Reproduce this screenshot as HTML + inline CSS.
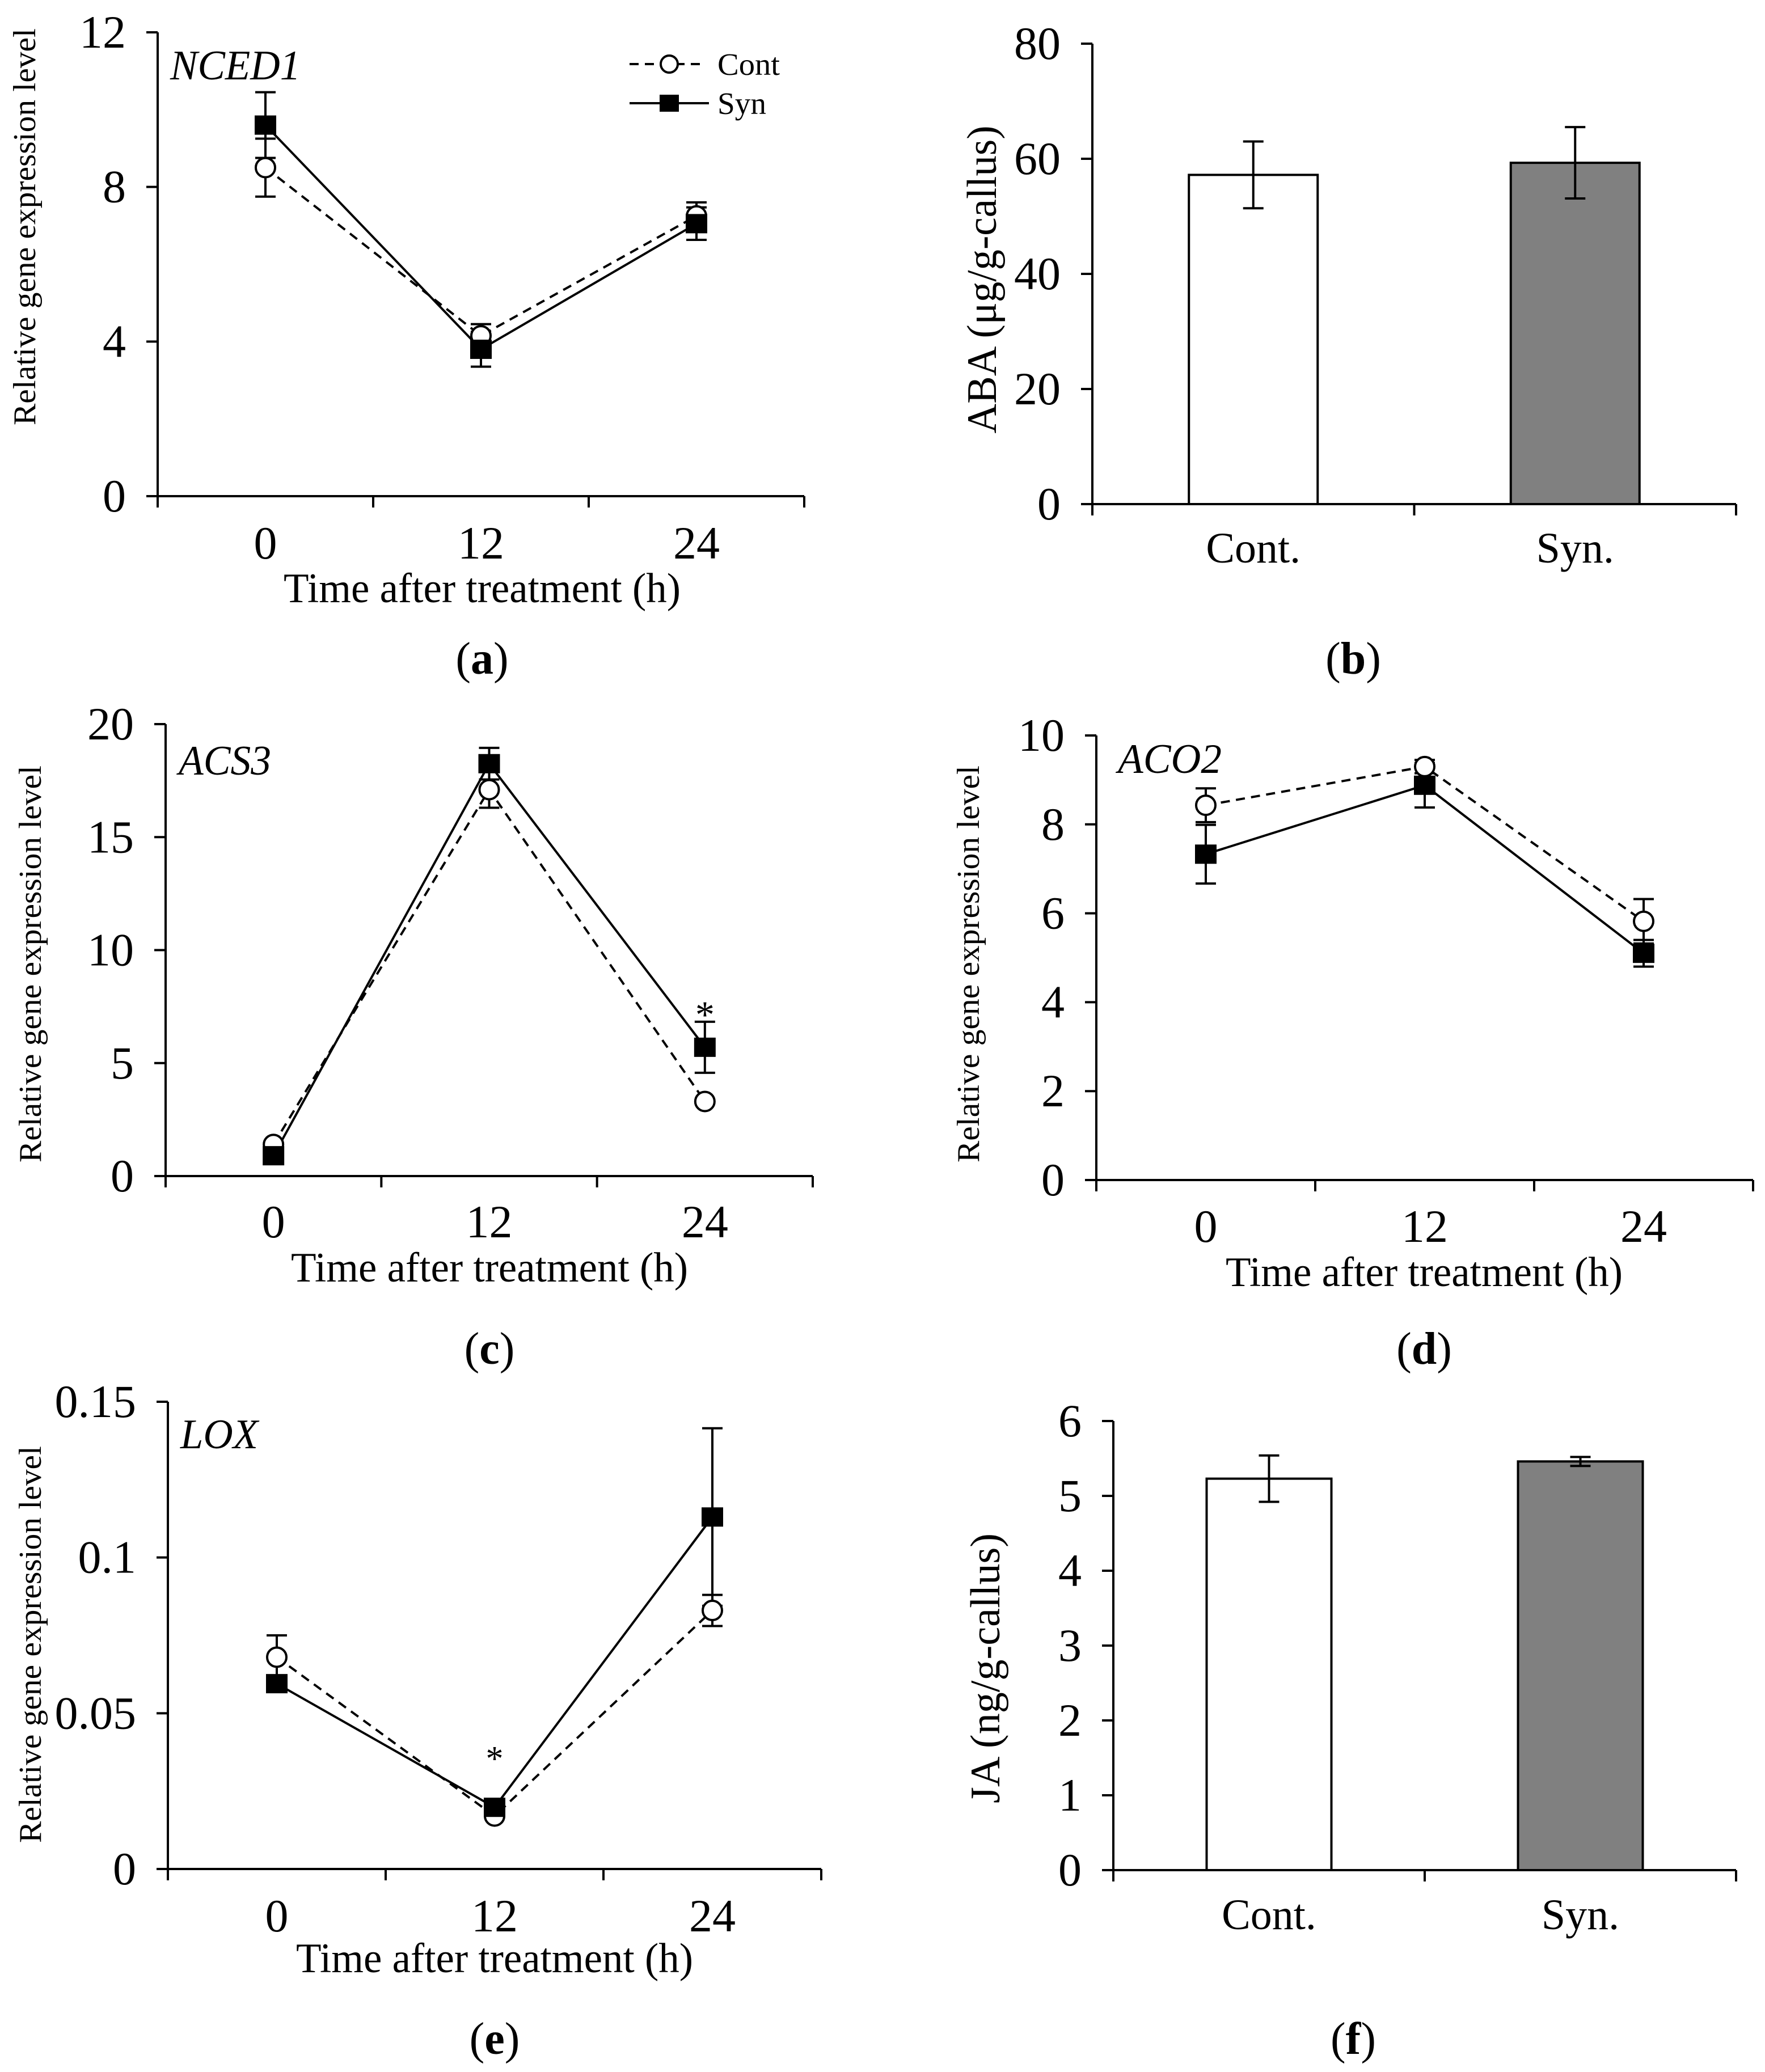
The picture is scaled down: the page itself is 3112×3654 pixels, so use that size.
<!DOCTYPE html>
<html><head><meta charset="utf-8"><style>
html,body{margin:0;padding:0;background:#fff;}
svg{display:block;}
text{font-family:"Liberation Serif",serif;fill:#000;}
</style></head><body>
<svg id="fig" width="3112" height="3654" viewBox="0 0 3112 3654" xmlns="http://www.w3.org/2000/svg"></svg>
<script>
const timeCats=["0","12","24"];
const ncedCont=[8.5,4.15,7.25], ncedContErr=[0.75,0.3,0.35];
const ncedSyn=[9.6,3.8,7.05], ncedSynErr=[0.85,0.45,0.42];
const ncedTicks=[0,4,8,12];
const acsCont=[1.4,17.1,3.3], acsContErr=[0,0.8,0];
const acsSyn=[0.9,18.25,5.7], acsSynErr=[0,0.7,1.13];
const acsTicks=[0,5,10,15,20];
const acoCont=[8.43,9.3,5.82], acoContErr=[0.38,0.15,0.5];
const acoSyn=[7.33,8.88,5.1], acoSynErr=[0.66,0.5,0.3];
const acoTicks=[0,2,4,6,8,10];
const loxCont=[0.068,0.017,0.083], loxContErr=[0.007,0,0.005];
const loxSyn=[0.0595,0.0198,0.113], loxSynErr=[0,0,0.0285];
const loxTicks=[0,0.05,0.1,0.15];
const loxTickLabels=["0","0.05","0.1","0.15"];
const barCats=["Cont.","Syn."];
const abaVals=[57.2,59.3], abaErr=[5.8,6.2];
const abaTicks=[0,20,40,60,80];
const jaVals=[5.23,5.46], jaErr=[0.31,0.06];
const jaTicks=[0,1,2,3,4,5,6];

const NS="http://www.w3.org/2000/svg";
const svg=document.getElementById('fig');
function mk(tag,attrs,parent){const e=document.createElementNS(NS,tag);for(const k in attrs)e.setAttribute(k,attrs[k]);(parent||svg).appendChild(e);return e;}
function txt(s,x,y,size,parent,opts){opts=opts||{};const t=mk('text',{x:x,y:y,'font-size':size,'text-anchor':opts.anchor||'middle'},parent);
 if(opts.len){t.setAttribute('textLength',opts.len);t.setAttribute('lengthAdjust','spacingAndGlyphs');}
 if(opts.italic)t.setAttribute('font-style','italic');if(opts.bold)t.setAttribute('font-weight','bold');
 if(opts.rot)t.setAttribute('transform','rotate(-90 '+x+' '+y+')');if(opts.fill)t.setAttribute('fill',opts.fill);
 t.textContent=s;return t;}

function axes(g,P,ticks,labels,nCats){
 const yS=v=>P.y0-(v-P.vmin)/(P.vmax-P.vmin)*(P.y0-P.yTop);
 let e=mk('line',{x1:P.x0,y1:P.yTop,x2:P.x0,y2:P.y0,stroke:'#000','stroke-width':4},g);
 
 e=mk('line',{x1:P.x0-3,y1:P.y0,x2:P.x1,y2:P.y0,stroke:'#000','stroke-width':4},g);
 
 ticks.forEach((v,i)=>{const y=yS(v);
  e=mk('line',{x1:P.x0-20,y1:y,x2:P.x0,y2:y,stroke:'#000','stroke-width':4},g);
  
  const s=labels?labels[i]:String(v);
  e=txt(s,P.x0-56,y+27,82,g,{anchor:'end'});
  });
 const w=(P.x1-P.x0)/nCats;
 for(let i=0;i<=nCats;i++){e=mk('line',{x1:P.x0+i*w,y1:P.y0,x2:P.x0+i*w,y2:P.y0+20,stroke:'#000','stroke-width':4},g);
  }
 return {yS:yS,xS:i=>P.x0+(i+0.5)*w};
}

function errBar(g,x,y1,y2){if(Math.abs(y2-y1)<1)return;
 let e=mk('line',{x1:x,y1:y1,x2:x,y2:y2,stroke:'#000','stroke-width':4},g);
 
 [y1,y2].forEach(y=>{e=mk('line',{x1:x-18,y1:y,x2:x+18,y2:y,stroke:'#000','stroke-width':4},g);
  });}

function panelLabel(g,letter,x,y){const e=mk('text',{x:x,y:y,'font-size':80,'text-anchor':'middle'},g);
 e.innerHTML='(<tspan font-weight="bold">'+letter+'</tspan>)';
 }

function linePanel(name,P,ticks,tickLabels,cont,contErr,syn,synErr,gene,genePos,label){
 const g=mk('g',{});
 const A=axes(g,P,ticks,tickLabels,3);
 cont.forEach((v,i)=>errBar(g,A.xS(i),A.yS(v+contErr[i]),A.yS(v-contErr[i])));
 syn.forEach((v,i)=>errBar(g,A.xS(i),A.yS(v+synErr[i]),A.yS(v-synErr[i])));
 let e=mk('polyline',{points:cont.map((v,i)=>A.xS(i)+','+A.yS(v)).join(' '),fill:'none',stroke:'#000','stroke-width':4,'stroke-dasharray':'16 11'},g);
 
 e=mk('polyline',{points:syn.map((v,i)=>A.xS(i)+','+A.yS(v)).join(' '),fill:'none',stroke:'#000','stroke-width':4},g);
 
 cont.forEach((v,i)=>{e=mk('circle',{cx:A.xS(i),cy:A.yS(v),r:17,fill:'#fff',stroke:'#000','stroke-width':4},g);
  });
 syn.forEach((v,i)=>{e=mk('rect',{x:A.xS(i)-19,y:A.yS(v)-17,width:38,height:34,fill:'#000'},g);
  });
 timeCats.forEach((c,i)=>{e=txt(c,A.xS(i),P.xtY,82,g,{});
  });
 e=txt('Time after treatment (h)',P.xTitle,P.titleY,74,g,{len:700});
 
 e=txt('Relative gene  expression  level',P.yLabX,P.yLabC,56,g,{rot:1,len:700});
 
 e=txt(gene,genePos[0],genePos[1],74,g,{anchor:'start',italic:1,len:genePos[2]});
 
 panelLabel(g,label,P.xTitle,P.labY);
 return {g:g,A:A};
}

function barPanel(name,P,ticks,vals,errs,ylab,yLen,label,bw){
 const g=mk('g',{});
 const A=axes(g,P,ticks,null,2);
 const fills=['#fff','#808080'];
 vals.forEach((v,i)=>{let e=mk('rect',{x:A.xS(i)-bw/2,y:A.yS(v),width:bw,height:P.y0-A.yS(v),fill:fills[i],stroke:'#000','stroke-width':4},g);
  
  errBar(g,A.xS(i),A.yS(v+errs[i]),A.yS(v-errs[i]));
  e=txt(barCats[i],A.xS(i),P.xtY,76,g,{});
  });
 let e=txt(ylab,P.yLabX,P.yLabC,74,g,{rot:1,len:yLen});
 
 panelLabel(g,label,2386,P.labY);
}

// Panel a
linePanel('nced1',{x0:278,x1:1418,yTop:57,y0:875,vmin:0,vmax:12,yLabX:62,yLabC:400,xTitle:850,xtY:985,titleY:1062,labY:1188},ncedTicks,null,ncedCont,ncedContErr,ncedSyn,ncedSynErr,'NCED1',[300,140,230],'a');
(function(){const g=mk('g',{});
 let e=mk('line',{x1:1110,y1:113,x2:1245,y2:113,stroke:'#000','stroke-width':4,'stroke-dasharray':'16 11'},g);
 
 e=mk('circle',{cx:1180,cy:113,r:15,fill:'#fff',stroke:'#000','stroke-width':4},g);
 
 e=txt('Cont',1265,132,55,g,{anchor:'start',len:110});
 
 e=mk('line',{x1:1110,y1:182,x2:1250,y2:182,stroke:'#000','stroke-width':4},g);
 
 e=mk('rect',{x:1163,y:167,width:34,height:30,fill:'#000'},g);
 
 e=txt('Syn',1265,201,55,g,{anchor:'start',len:86});
 })();

// Panel b
barPanel('aba',{x0:1926,x1:3061,yTop:77,y0:889,vmin:0,vmax:80,yLabX:1756,yLabC:493,xtY:992,labY:1188},abaTicks,abaVals,abaErr,'ABA (μg/g-callus)',543,'b',227);

// Panel c
const pc=linePanel('acs3',{x0:292,x1:1433,yTop:1277,y0:2074,vmin:0,vmax:20,yLabX:72,yLabC:1700,xTitle:863,xtY:2182,titleY:2260,labY:2405},acsTicks,null,acsCont,acsContErr,acsSyn,acsSynErr,'ACS3',[315,1366,163],'c');
(function(){const e=txt('*',pc.A.xS(2),pc.A.yS(acsSyn[2]+acsSynErr[2])+10,68,pc.g,{});
 })();

// Panel d
linePanel('aco2',{x0:1933,x1:3091,yTop:1297,y0:2081,vmin:0,vmax:10,yLabX:1726,yLabC:1700,xTitle:2511,xtY:2190,titleY:2268,labY:2405},acoTicks,null,acoCont,acoContErr,acoSyn,acoSynErr,'ACO2',[1971,1363,183],'d');

// Panel e
const pe=linePanel('lox',{x0:296,x1:1448,yTop:2472,y0:3296,vmin:0,vmax:0.15,yLabX:72,yLabC:2900,xTitle:872,xtY:3406,titleY:3478,labY:3622},loxTicks,loxTickLabels,loxCont,loxContErr,loxSyn,loxSynErr,'LOX',[318,2554,137],'e');
(function(){const e=txt('*',pe.A.xS(1),3122,62,pe.g,{fill:'#555'});
 })();

// Panel f
barPanel('ja',{x0:1963,x1:3061,yTop:2506,y0:3298,vmin:0,vmax:6,yLabX:1762,yLabC:2942,xtY:3402,labY:3622},jaTicks,jaVals,jaErr,'JA (ng/g-callus)',476,'f',220);
</script>
</body></html>
